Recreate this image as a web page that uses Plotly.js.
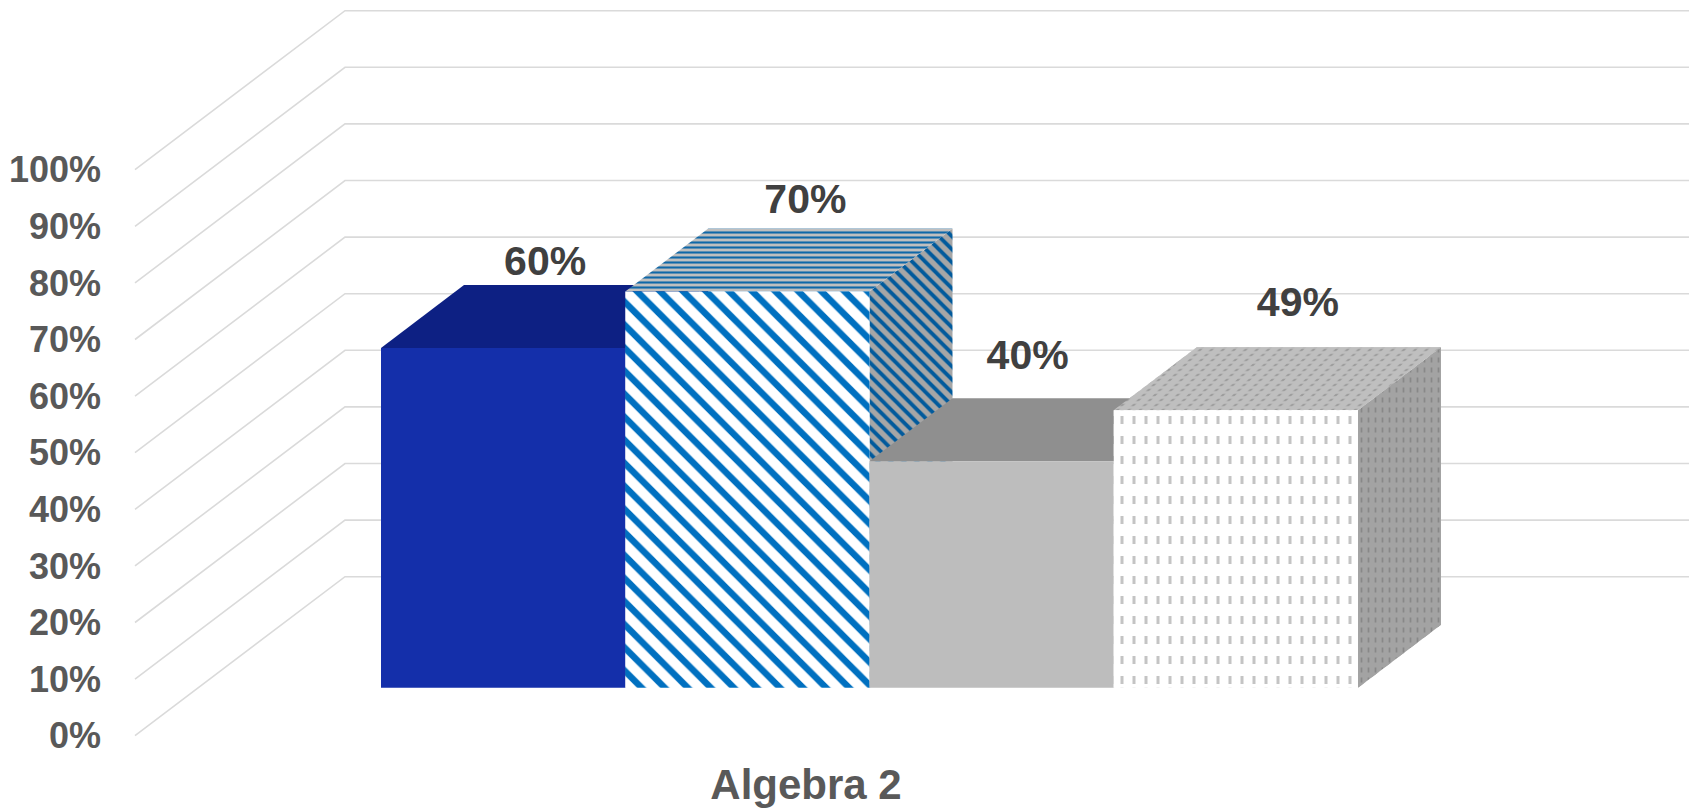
<!DOCTYPE html>
<html>
<head>
<meta charset="utf-8">
<script src="https://cdn.plot.ly/plotly-3.0.1.min.js"></script>
<style>html,body{margin:0;padding:0;background:#fff}#c{width:1694px;height:808px}</style>
</head>
<body>
<div id="c"></div>
<script>
// --- data ---
const category = ['Algebra 2'];
const seriesValues = [60, 70, 40, 49];
const valueLabels = ['60%', '70%', '40%', '49%'];
const axisTicks = [0, 10, 20, 30, 40, 50, 60, 70, 80, 90, 100];

// --- appearance ---
const W = 1694, H = 808;
const unitX = 244.25, unitY = 5.66;     // px per bar width, px per percent
const barLeft = 381, barBase = 687.7, tickBase = 735.7;
const depthX = 83 / unitX, depthY = 63 / unitY;
const wallDY = 159 / unitY;
const px = p => (p - barLeft) / unitX;
const gridLeft = px(135), wallLeft = px(345), gridRight = px(1689);
const labelShift = [[42, 83], [58, 89], [36, 103], [62, 105]];
const clear = 'rgba(0,0,0,0)';

const styles = [
  { front: { color: '#142FAA' },
    top: { fillcolor: '#0D2083' },
    side: { fillcolor: '#0D2083' } },
  { front: { color: '#FFFFFF', pattern: { shape: '\\', fgcolor: '#0070C0', bgcolor: '#FFFFFF', size: 16.3, solidity: 0.4, fillmode: 'replace' } },
    top: { fillcolor: '#BFBFBF', fillpattern: { shape: '-', fgcolor: '#0F68A8', bgcolor: '#BFBFBF', size: 5, solidity: 0.42 } },
    side: { fillcolor: '#A6A6A6', fillpattern: { shape: '\\', fgcolor: '#015A9C', bgcolor: '#A6A6A6', size: 9.2, solidity: 0.42 } } },
  { front: { color: '#BDBDBD' },
    top: { fillcolor: '#8F8F8F' },
    side: { fillcolor: '#8F8F8F' } },
  { front: { color: '#FFFFFF', pattern: { shape: '|', fgcolor: '#C4C4C4', bgcolor: '#FFFFFF', size: 12, solidity: 0.25, fillmode: 'replace' } },
    frontCover: { color: clear, pattern: { shape: '-', fgcolor: '#FFFFFF', bgcolor: clear, size: 20, solidity: 0.6, fillmode: 'replace' } },
    top: { fillcolor: '#BFBFBF', fillpattern: { shape: '/', fgcolor: '#9C9C9C', bgcolor: '#BFBFBF', size: 8, solidity: 0.25 } },
    topCover: { fillcolor: clear, fillpattern: { shape: '-', fgcolor: '#BFBFBF', bgcolor: clear, size: 5, solidity: 0.5 } },
    side: { fillcolor: '#A3A3A3', fillpattern: { shape: '|', fgcolor: '#888888', bgcolor: '#A3A3A3', size: 7, solidity: 0.25 } },
    sideCover: { fillcolor: clear, fillpattern: { shape: '-', fgcolor: '#A3A3A3', bgcolor: clear, size: 10, solidity: 0.5 } } }
];

const traces = [];

// gridlines: front-left stub -> back wall -> right edge
axisTicks.forEach(t => {
  traces.push({
    type: 'scatter', mode: 'lines', yaxis: 'y', xaxis: 'x', hoverinfo: 'skip', showlegend: false,
    x: [gridLeft, wallLeft, gridRight],
    y: [t, t + wallDY, t + wallDY],
    line: { color: '#DADADA', width: 1.6 }
  });
});

// bars: painted from left to right (side, top, front)
let z = 1;
function face(xs, ys, style) {
  traces.push(Object.assign({
    type: 'scatter', mode: 'none', fill: 'toself', yaxis: 'y2', xaxis: 'x', hoverinfo: 'skip', showlegend: false,
    zorder: z++, x: xs, y: ys
  }, style));
}
function front(i, v, marker) {
  traces.push({
    type: 'bar', yaxis: 'y2', xaxis: 'x', showlegend: false, hoverinfo: 'skip',
    zorder: z++, x: [i + 0.5], y: [v], width: [1],
    marker: Object.assign({ line: { width: 0 } }, marker)
  });
}
seriesValues.forEach((v, i) => {
  const s = styles[i];
  const sideX = [i + 1, i + 1, i + 1 + depthX, i + 1 + depthX, i + 1];
  const sideY = [0, v, v + depthY, depthY, 0];
  const topX = [i, i + 1, i + 1 + depthX, i + depthX, i];
  const topY = [v, v, v + depthY, v + depthY, v];
  face(sideX, sideY, s.side);
  if (s.sideCover) face(sideX, sideY, s.sideCover);
  face(topX, topY, s.top);
  if (s.topCover) face(topX, topY, s.topCover);
  front(i, v, s.front);
  if (s.frontCover) front(i, v, s.frontCover);
});

// value labels
traces.push({
  type: 'scatter', mode: 'text', yaxis: 'y2', xaxis: 'x', hoverinfo: 'skip', showlegend: false,
  zorder: 90,
  x: seriesValues.map((v, i) => i + 0.5 + labelShift[i][0] / unitX),
  y: seriesValues.map((v, i) => v + labelShift[i][1] / unitY),
  text: valueLabels,
  textposition: 'middle center',
  cliponaxis: false,
  textfont: { family: '"Liberation Sans", Arial, sans-serif', size: 41, color: '#404040', weight: 700 }
});

const layout = {
  width: W, height: H,
  margin: { l: 0, r: 0, t: 0, b: 0 },
  paper_bgcolor: '#FFFFFF', plot_bgcolor: '#FFFFFF',
  showlegend: false,
  barmode: 'overlay',
  xaxis: {
    range: [px(0), px(W)], showgrid: false, zeroline: false, showline: false,
    anchor: 'free', position: 0.0645,
    tickmode: 'array', tickvals: [px(806)], ticktext: category, ticks: '',
    tickfont: { family: '"Liberation Sans", Arial, sans-serif', size: 42, color: '#595959', weight: 700 }
  },
  yaxis: {
    range: [(tickBase - H) / unitY, tickBase / unitY], showgrid: false, zeroline: false, showline: false,
    anchor: 'free', position: 101 / W,
    tickmode: 'array', tickvals: axisTicks, ticktext: axisTicks.map(t => t + '%'), ticks: '',
    tickfont: { family: '"Liberation Sans", Arial, sans-serif', size: 36, color: '#595959', weight: 700 }
  },
  yaxis2: {
    overlaying: 'y', anchor: 'x', side: 'left',
    range: [(barBase - H) / unitY, barBase / unitY], showgrid: false, zeroline: false, showline: false,
    showticklabels: false, ticks: ''
  }
};

Plotly.newPlot('c', traces, layout, { displayModeBar: false, responsive: false, staticPlot: true });
</script>
</body>
</html>
